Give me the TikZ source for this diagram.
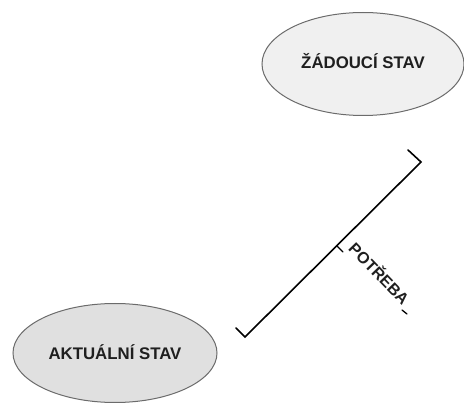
\documentclass[tikz,border=0pt]{standalone}
\usepackage{fontspec}
\setmainfont{Liberation Sans}
\usetikzlibrary{shapes.geometric}
\tikzset{
  state/.style={ellipse, draw=black!58, line width=1pt, inner sep=0pt},
  lbl/.style={font=\bfseries\fontsize{16.8}{18}\selectfont, text=black!88, inner sep=0pt},
  bracket/.style={draw=black, line width=1.6pt, line cap=round, line join=miter}
}
\begin{document}
\begin{tikzpicture}[x=1pt,y=-1pt]
  \useasboundingbox (0,0) rectangle (464,406);
  % the two states
  \node[state, fill=black!6, minimum width=202pt, minimum height=103pt] (desired) at (363,64) {};
  \node[lbl] (desiredtxt) at (363,61) {ŽÁDOUCÍ STAV};
  \node[state, fill=black!12, minimum width=204pt, minimum height=99pt] (actual) at (115,353) {};
  \node[lbl] (actualtxt) at (115,352) {AKTUÁLNÍ STAV};
  % the gap between them, marked by a bracket
  \coordinate (topend) at (408,150);
  \coordinate (topcorner) at (421,162);
  \coordinate (botcorner) at (245,337);
  \coordinate (botend) at (236,328);
  \draw[bracket] (topend) -- (topcorner) -- (botcorner) -- (botend);
  \coordinate (tickA) at (337,246);
  \coordinate (tickB) at (343,252);
  \draw[bracket, line width=1.3pt] (tickA) -- (tickB);
  \node[lbl, font=\bfseries\fontsize{16}{18}\selectfont, rotate=-46] (need) at (380,273) {POTŘEBA};
  \coordinate (dashA) at (402,310);
  \coordinate (dashB) at (407,314);
  \draw[bracket, line width=1.3pt] (dashA) -- (dashB);
\end{tikzpicture}
\end{document}
